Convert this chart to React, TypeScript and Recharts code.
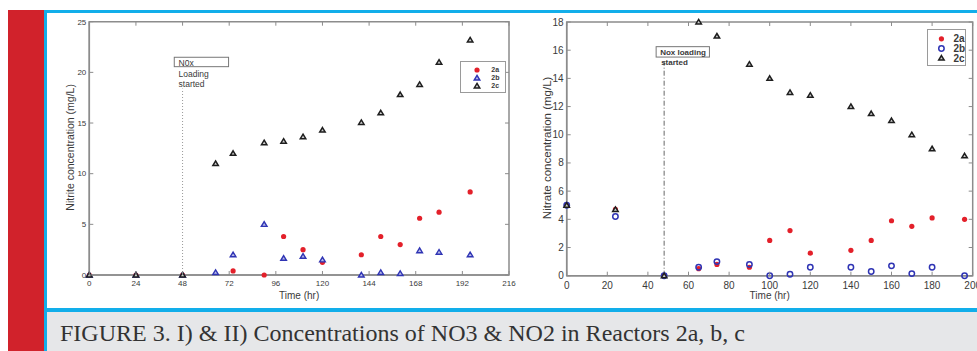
import React from 'react';
import { ScatterChart, Scatter, XAxis, YAxis, ReferenceLine, ReferenceArea, Legend } from 'recharts';

// ---------- data ----------
const hours = [0, 24, 48, 65, 74, 90, 100, 110, 120, 140, 150, 160, 170, 180, 196];

// Panel I: nitrite (mg/L)
const nitrite2a = [0, 0, 0, null, 0.4, 0, 3.8, 2.5, 1.25, 2.0, 3.8, 3.0, 5.6, 6.2, 8.2];
const nitrite2b = [0, 0, 0, 0.25, 2.0, 5.0, 1.65, 1.85, 1.5, 0, 0.25, 0.15, 2.4, 2.25, 2.0];
const nitrite2c = [0, 0, 0, 11.0, 12.0, 13.05, 13.2, 13.65, 14.3, 15.05, 16.0, 17.8, 18.8, 21.0, 23.2];

// Panel II: nitrate (mg/L)
const nitrate2a = [5.0, 4.7, 0, 0.5, 0.8, 0.6, 2.5, 3.2, 1.6, 1.8, 2.5, 3.9, 3.5, 4.1, 4.0];
const nitrate2b = [5.0, 4.2, 0, 0.6, 1.0, 0.8, 0, 0.1, 0.6, 0.6, 0.3, 0.7, 0.15, 0.6, 0];
const nitrate2c = [5.0, 4.7, 0, 18.0, 17.0, 15.0, 14.0, 13.0, 12.8, 12.0, 11.5, 11.0, 10.0, 9.0, 8.5];

const nitriteXTicks = [0, 24, 48, 72, 96, 120, 144, 168, 192, 216];
const nitriteYTicks = [0, 5, 10, 15, 20, 25];
const nitrateXTicks = [0, 20, 40, 60, 80, 100, 120, 140, 160, 180, 200];
const nitrateYTicks = [0, 2, 4, 6, 8, 10, 12, 14, 16, 18];

const seriesNames = ['2a', '2b', '2c'];
const loadingHour = 48;
const caption = 'FIGURE 3. I) & II) Concentrations of NO3 & NO2 in Reactors 2a, b, c';

// ---------- helpers ----------
const toPoints = (vals: (number | null)[]) =>
  hours.map((h, i) => ({ x: h, y: vals[i] })).filter((p) => p.y !== null);

const W = 977;
const H = 351;
const AXIS = '#8c8c8c';
const TXT = '#3a3a3a';
const RED = '#e3202a';
const BLUE = '#2f34b4';
const DARK = '#1e1e1e';
const FONT = '"Liberation Sans", Arial, sans-serif';

const RedDot = (p: any) => <circle cx={p.cx} cy={p.cy} r={2.6} fill={RED} />;
const tri = (cx: number, cy: number, s: number) =>
  `${cx},${cy - s} ${cx + s * 1.05},${cy + s * 0.75} ${cx - s * 1.05},${cy + s * 0.75}`;
const BlueTri = (p: any) => (
  <polygon points={tri(p.cx, p.cy, 2.7)} fill="#b9bbe8" stroke={BLUE} strokeWidth={1.4} />
);
const BlackTri = (p: any) => (
  <polygon points={tri(p.cx, p.cy, 2.6)} fill="#cfcfcf" stroke={DARK} strokeWidth={1.5} />
);
const BlueCircle = (p: any) => (
  <circle cx={p.cx} cy={p.cy} r={2.7} fill="none" stroke={BLUE} strokeWidth={1.5} />
);

type Geo = { left: number; right: number; top: number; bottom: number; fs: number };

const makeXTick = (g: Geo) => (props: any) => {
  const { x, payload } = props;
  return (
    <g>
      <line x1={x} x2={x} y1={g.bottom} y2={g.bottom - 4} stroke={AXIS} strokeWidth={1} />
      <line x1={x} x2={x} y1={g.top} y2={g.top + 4} stroke={AXIS} strokeWidth={1} />
      <text x={x} y={g.bottom + g.fs + 3} textAnchor="middle" fontSize={g.fs} fill={TXT} fontFamily={FONT}>
        {payload.value}
      </text>
    </g>
  );
};

const makeYTick = (g: Geo) => (props: any) => {
  const { y, payload } = props;
  return (
    <g>
      <line x1={g.left} x2={g.left + 4} y1={y} y2={y} stroke={AXIS} strokeWidth={1} />
      <line x1={g.right} x2={g.right - 4} y1={y} y2={y} stroke={AXIS} strokeWidth={1} />
      <text x={g.left - 3} y={y + g.fs * 0.35} textAnchor="end" fontSize={g.fs} fill={TXT} fontFamily={FONT}>
        {payload.value}
      </text>
    </g>
  );
};

const LegendBox = ({ w, h, fs, markers }: { w: number; h: number; fs: number; markers: ((p: any) => any)[] }) => {
  const rowH = (h - 8) / 3;
  return (
    <svg width={w} height={h} style={{ display: 'block' }}>
      <rect x={0.5} y={0.5} width={w - 1} height={h - 1} fill="#fff" stroke="#9a9a9a" strokeWidth={1} />
      {seriesNames.map((n, i) => {
        const cy = 4 + rowH * (i + 0.5) + 1;
        const M = markers[i];
        return (
          <g key={n}>
            {M({ cx: w * 0.37, cy })}
            <text x={w * 0.68} y={cy + fs * 0.35} fontSize={fs} fill={TXT} fontFamily={FONT} fontWeight="bold">
              {n}
            </text>
          </g>
        );
      })}
    </svg>
  );
};

// ---------- panel geometry ----------
const G1: Geo = { left: 89.3, right: 509, top: 21.7, bottom: 275, fs: 8 };
const G2: Geo = { left: 566.7, right: 972.7, top: 22, bottom: 275.7, fs: 10 };
const YAXW = 40;
const XAXH = 30;

const marginFor = (g: Geo) => ({
  left: g.left - YAXW,
  right: W - g.right,
  top: g.top,
  bottom: H - g.bottom - XAXH,
});

const NitriteAnno = (props: any) => {
  const vb = props.viewBox || {};
  const x = vb.x;
  const y = vb.y;
  return (
    <g fontFamily={FONT} fontSize={8.5} fill={TXT}>
      <rect x={x - 8.3} y={y - 31.3} width={54.3} height={9.4} fill="#fff" stroke="#777" strokeWidth={1} />
      <text x={x - 4} y={y - 22.8}>N0x</text>
      <text x={x - 4} y={y - 11.8}>Loading</text>
      <text x={x - 4} y={y - 1.6}>started</text>
    </g>
  );
};

const NitrateAnno = (props: any) => {
  const vb = props.viewBox || {};
  const x = vb.x;
  const y = vb.y;
  return (
    <g fontFamily={FONT} fontSize={8} fill={TXT} fontWeight="bold">
      <rect x={x - 8} y={y - 14.8} width={53.3} height={10.4} fill="#fff" stroke="#777" strokeWidth={1} />
      <text x={x - 4} y={y - 6.4}>Nox loading</text>
      <text x={x - 3} y={y + 3.6}>started</text>
    </g>
  );
};

const XLabel = (g: Geo) => (props: any) => (
  <text x={(g.left + g.right) / 2} y={g.bottom + 23.5} textAnchor="middle" fontSize={10} fill={TXT} fontFamily={FONT}>
    Time (hr)
  </text>
);

const YLabel = (g: Geo, text: string, cx: number, fs: number) => (props: any) => {
  const cy = (g.top + g.bottom) / 2 - 1;
  return (
    <text
      x={cx}
      y={cy}
      transform={`rotate(-90 ${cx} ${cy})`}
      textAnchor="middle"
      dominantBaseline="central"
      fontSize={fs}
      fill={TXT}
      fontFamily={FONT}
    >
      {text}
    </text>
  );
};

export default function App() {
  return (
    <div style={{ position: 'absolute', left: 0, top: 0, width: W, height: H, background: '#fff', overflow: 'hidden' }}>
      {/* page decorations */}
      <div style={{ position: 'absolute', left: 8, top: 10, width: 36, height: 341, background: '#d1222b' }} />
      <div style={{ position: 'absolute', left: 44, top: 10, width: 933, height: 3, background: '#12aeea' }} />
      <div style={{ position: 'absolute', left: 44, top: 10, width: 3, height: 341, background: '#12aeea' }} />
      <div style={{ position: 'absolute', left: 44, top: 308, width: 933, height: 4, background: '#12aeea' }} />
      <div style={{ position: 'absolute', left: 47, top: 312, width: 930, height: 39, background: '#e6e7e9' }} />
      <svg style={{ position: 'absolute', left: 0, top: 0 }} width={W} height={H}>
        <text
          x={60}
          y={341}
          fontSize={23}
          fill="#333"
          fontFamily='"Liberation Serif", "DejaVu Serif", serif'
          textLength={685}
          lengthAdjust="spacingAndGlyphs"
        >
          {caption}
        </text>
      </svg>

      {/* Panel I : nitrite */}
      <div style={{ position: 'absolute', left: 0, top: 0 }}>
        <ScatterChart width={W} height={H} margin={marginFor(G1)}>
          <XAxis
            dataKey="x"
            type="number"
            domain={[0, 216]}
            ticks={nitriteXTicks}
            interval={0}
            tickLine={false}
            axisLine={{ stroke: AXIS, strokeWidth: 1.5 }}
            tick={makeXTick(G1)}
            height={XAXH}
            label={XLabel(G1)}
          />
          <YAxis
            dataKey="y"
            type="number"
            domain={[0, 25]}
            ticks={nitriteYTicks}
            interval={0}
            tickLine={false}
            axisLine={{ stroke: AXIS, strokeWidth: 1.5 }}
            tick={makeYTick(G1)}
            width={YAXW}
            label={YLabel(G1, 'Nitrite concentration (mg/L)', 70, 10.5)}
          />
          <ReferenceArea x1={0} x2={216} y1={0} y2={25} fill="none" stroke={AXIS} strokeWidth={1.5} />
          <ReferenceLine
            segment={[{ x: loadingHour, y: 0 }, { x: loadingHour, y: 18.4 }]}
            stroke="#999"
            strokeDasharray="1 2"
            label={NitriteAnno}
          />
          <Scatter name={seriesNames[0]} data={toPoints(nitrite2a)} shape={RedDot} isAnimationActive={false} />
          <Scatter name={seriesNames[1]} data={toPoints(nitrite2b)} shape={BlueTri} isAnimationActive={false} />
          <Scatter name={seriesNames[2]} data={toPoints(nitrite2c)} shape={BlackTri} isAnimationActive={false} />
          <Legend
            layout="horizontal"
            verticalAlign="middle"
            align="center"
            wrapperStyle={{ left: 460, top: 61, width: 46, height: 32 }}
            content={() => <LegendBox w={46} h={32} fs={7} markers={[RedDot, BlueTri, BlackTri]} />}
          />
        </ScatterChart>
      </div>

      {/* Panel II : nitrate */}
      <div style={{ position: 'absolute', left: 0, top: 0 }}>
        <ScatterChart width={W} height={H} margin={marginFor(G2)}>
          <XAxis
            dataKey="x"
            type="number"
            domain={[0, 200]}
            ticks={nitrateXTicks}
            interval={0}
            tickLine={false}
            axisLine={{ stroke: AXIS, strokeWidth: 1.5 }}
            tick={makeXTick(G2)}
            height={XAXH}
            label={XLabel(G2)}
          />
          <YAxis
            dataKey="y"
            type="number"
            domain={[0, 18]}
            ticks={nitrateYTicks}
            interval={0}
            tickLine={false}
            axisLine={{ stroke: AXIS, strokeWidth: 1.5 }}
            tick={makeYTick(G2)}
            width={YAXW}
            label={YLabel(G2, 'Nitrate concentration (mg/L)', 546.7, 11.5)}
          />
          <ReferenceArea x1={0} x2={200} y1={0} y2={18} fill="none" stroke={AXIS} strokeWidth={1.5} />
          <ReferenceLine
            segment={[{ x: loadingHour, y: 0 }, { x: loadingHour, y: 15.2 }]}
            stroke="#666"
            strokeDasharray="5 2 1 2"
            label={NitrateAnno}
          />
          <Scatter name={seriesNames[0]} data={toPoints(nitrate2a)} shape={RedDot} isAnimationActive={false} />
          <Scatter name={seriesNames[1]} data={toPoints(nitrate2b)} shape={BlueCircle} isAnimationActive={false} />
          <Scatter name={seriesNames[2]} data={toPoints(nitrate2c)} shape={BlackTri} isAnimationActive={false} />
          <Legend
            layout="horizontal"
            verticalAlign="middle"
            align="center"
            wrapperStyle={{ left: 927, top: 29, width: 39, height: 37 }}
            content={() => <LegendBox w={39} h={37} fs={10} markers={[RedDot, BlueCircle, BlackTri]} />}
          />
        </ScatterChart>
      </div>
    </div>
  );
}
